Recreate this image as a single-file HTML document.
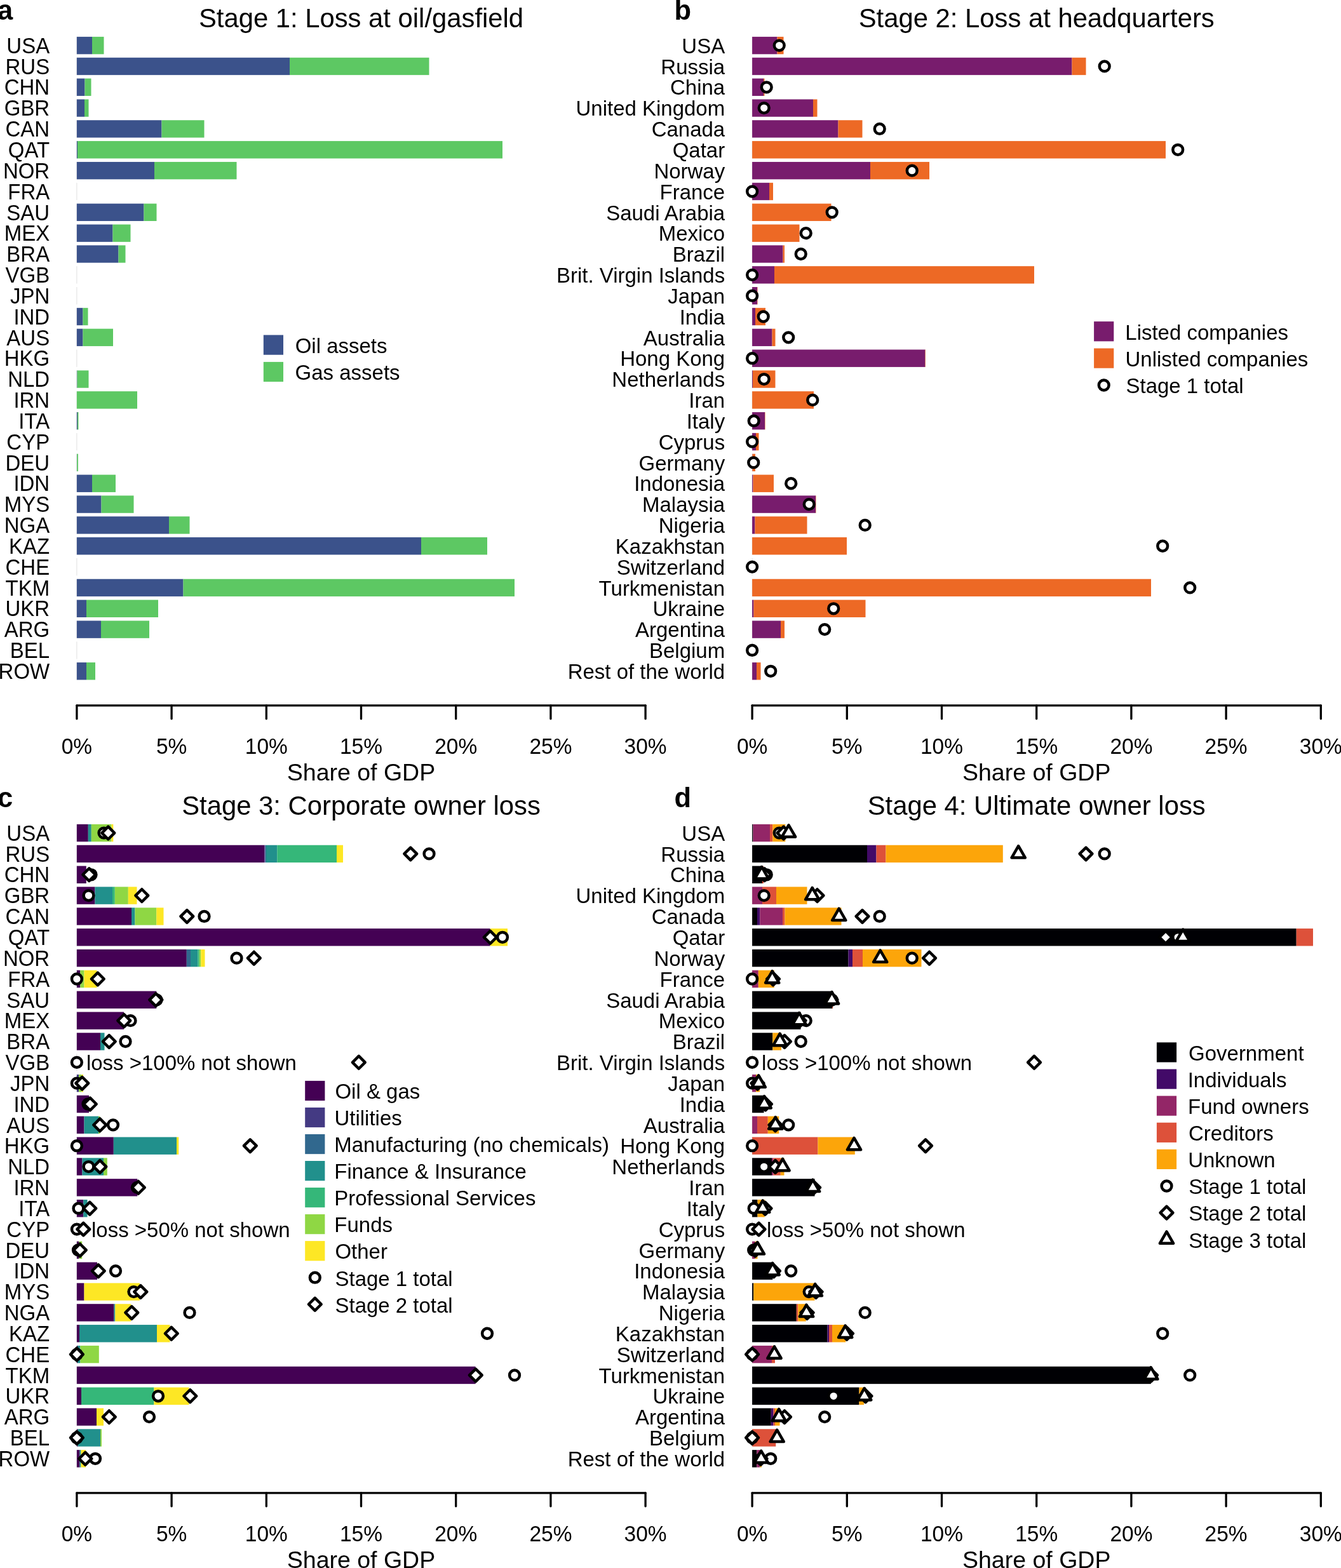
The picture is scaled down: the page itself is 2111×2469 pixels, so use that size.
<!DOCTYPE html>
<html><head><meta charset="utf-8"><title>Stages of loss</title>
<style>
html,body{margin:0;padding:0;background:#fff;overflow:hidden;}
svg{display:block;}
text{font-family:"Liberation Sans",Arial,sans-serif;font-size:33.5px;fill:#000;}
</style></head><body>
<svg width="2111" height="2469" viewBox="0 0 2111 2469">
<rect width="2111" height="2469" fill="#fff"/>
<text x="-4.00" y="30.50" font-weight="bold" style="font-size:43.5px">a</text>
<text transform="translate(568.50 43.00) scale(1 1.02)" text-anchor="middle" style="font-size:41.8px">Stage 1: Loss at oil/gasfield</text>
<rect x="120.40" y="57.90" width="1" height="27.40" fill="#000" fill-opacity="0.13"/>
<rect x="120.90" y="57.90" width="24.10" height="27.40" fill="#3B528B"/>
<rect x="145.00" y="57.90" width="18.50" height="27.40" fill="#5DC863"/>
<text transform="translate(78.20 83.80) scale(0.985 1.045)" text-anchor="end">USA</text>
<rect x="120.40" y="90.74" width="1" height="27.40" fill="#000" fill-opacity="0.13"/>
<rect x="120.90" y="90.74" width="335.10" height="27.40" fill="#3B528B"/>
<rect x="456.00" y="90.74" width="219.50" height="27.40" fill="#5DC863"/>
<text transform="translate(78.20 116.64) scale(0.985 1.045)" text-anchor="end">RUS</text>
<rect x="120.40" y="123.58" width="1" height="27.40" fill="#000" fill-opacity="0.13"/>
<rect x="120.90" y="123.58" width="12.60" height="27.40" fill="#3B528B"/>
<rect x="133.50" y="123.58" width="10.00" height="27.40" fill="#5DC863"/>
<text transform="translate(78.20 149.48) scale(0.985 1.045)" text-anchor="end">CHN</text>
<rect x="120.40" y="156.42" width="1" height="27.40" fill="#000" fill-opacity="0.13"/>
<rect x="120.90" y="156.42" width="12.10" height="27.40" fill="#3B528B"/>
<rect x="133.00" y="156.42" width="6.50" height="27.40" fill="#5DC863"/>
<text transform="translate(78.20 182.32) scale(0.985 1.045)" text-anchor="end">GBR</text>
<rect x="120.40" y="189.26" width="1" height="27.40" fill="#000" fill-opacity="0.13"/>
<rect x="120.90" y="189.26" width="133.60" height="27.40" fill="#3B528B"/>
<rect x="254.50" y="189.26" width="67.00" height="27.40" fill="#5DC863"/>
<text transform="translate(78.20 215.16) scale(0.985 1.045)" text-anchor="end">CAN</text>
<rect x="120.40" y="222.10" width="1" height="27.40" fill="#000" fill-opacity="0.13"/>
<rect x="120.90" y="222.10" width="1.10" height="27.40" fill="#3B528B"/>
<rect x="122.00" y="222.10" width="669.00" height="27.40" fill="#5DC863"/>
<text transform="translate(78.20 248.00) scale(0.985 1.045)" text-anchor="end">QAT</text>
<rect x="120.40" y="254.94" width="1" height="27.40" fill="#000" fill-opacity="0.13"/>
<rect x="120.90" y="254.94" width="122.10" height="27.40" fill="#3B528B"/>
<rect x="243.00" y="254.94" width="129.50" height="27.40" fill="#5DC863"/>
<text transform="translate(78.20 280.84) scale(0.985 1.045)" text-anchor="end">NOR</text>
<rect x="120.40" y="287.78" width="1" height="27.40" fill="#000" fill-opacity="0.13"/>
<text transform="translate(78.20 313.68) scale(0.985 1.045)" text-anchor="end">FRA</text>
<rect x="120.40" y="320.62" width="1" height="27.40" fill="#000" fill-opacity="0.13"/>
<rect x="120.90" y="320.62" width="105.60" height="27.40" fill="#3B528B"/>
<rect x="226.50" y="320.62" width="20.00" height="27.40" fill="#5DC863"/>
<text transform="translate(78.20 346.52) scale(0.985 1.045)" text-anchor="end">SAU</text>
<rect x="120.40" y="353.46" width="1" height="27.40" fill="#000" fill-opacity="0.13"/>
<rect x="120.90" y="353.46" width="56.60" height="27.40" fill="#3B528B"/>
<rect x="177.50" y="353.46" width="28.00" height="27.40" fill="#5DC863"/>
<text transform="translate(78.20 379.36) scale(0.985 1.045)" text-anchor="end">MEX</text>
<rect x="120.40" y="386.30" width="1" height="27.40" fill="#000" fill-opacity="0.13"/>
<rect x="120.90" y="386.30" width="65.60" height="27.40" fill="#3B528B"/>
<rect x="186.50" y="386.30" width="11.00" height="27.40" fill="#5DC863"/>
<text transform="translate(78.20 412.20) scale(0.985 1.045)" text-anchor="end">BRA</text>
<rect x="120.40" y="419.14" width="1" height="27.40" fill="#000" fill-opacity="0.13"/>
<text transform="translate(78.20 445.04) scale(0.985 1.045)" text-anchor="end">VGB</text>
<rect x="120.40" y="451.98" width="1" height="27.40" fill="#000" fill-opacity="0.13"/>
<text transform="translate(78.20 477.88) scale(0.985 1.045)" text-anchor="end">JPN</text>
<rect x="120.40" y="484.82" width="1" height="27.40" fill="#000" fill-opacity="0.13"/>
<rect x="120.90" y="484.82" width="9.60" height="27.40" fill="#3B528B"/>
<rect x="130.50" y="484.82" width="8.00" height="27.40" fill="#5DC863"/>
<text transform="translate(78.20 510.72) scale(0.985 1.045)" text-anchor="end">IND</text>
<rect x="120.40" y="517.66" width="1" height="27.40" fill="#000" fill-opacity="0.13"/>
<rect x="120.90" y="517.66" width="9.60" height="27.40" fill="#3B528B"/>
<rect x="130.50" y="517.66" width="47.50" height="27.40" fill="#5DC863"/>
<text transform="translate(78.20 543.56) scale(0.985 1.045)" text-anchor="end">AUS</text>
<rect x="120.40" y="550.50" width="1" height="27.40" fill="#000" fill-opacity="0.13"/>
<text transform="translate(78.20 576.40) scale(0.985 1.045)" text-anchor="end">HKG</text>
<rect x="120.40" y="583.34" width="1" height="27.40" fill="#000" fill-opacity="0.13"/>
<rect x="120.90" y="583.34" width="0.60" height="27.40" fill="#3B528B"/>
<rect x="121.50" y="583.34" width="18.00" height="27.40" fill="#5DC863"/>
<text transform="translate(78.20 609.24) scale(0.985 1.045)" text-anchor="end">NLD</text>
<rect x="120.40" y="616.18" width="1" height="27.40" fill="#000" fill-opacity="0.13"/>
<rect x="120.90" y="616.18" width="95.10" height="27.40" fill="#5DC863"/>
<text transform="translate(78.20 642.08) scale(0.985 1.045)" text-anchor="end">IRN</text>
<rect x="120.40" y="649.02" width="1" height="27.40" fill="#000" fill-opacity="0.13"/>
<rect x="120.90" y="649.02" width="1.10" height="27.40" fill="#3B528B"/>
<rect x="122.00" y="649.02" width="1.50" height="27.40" fill="#5DC863"/>
<text transform="translate(78.20 674.92) scale(0.985 1.045)" text-anchor="end">ITA</text>
<rect x="120.40" y="681.86" width="1" height="27.40" fill="#000" fill-opacity="0.13"/>
<text transform="translate(78.20 707.76) scale(0.985 1.045)" text-anchor="end">CYP</text>
<rect x="120.40" y="714.70" width="1" height="27.40" fill="#000" fill-opacity="0.13"/>
<rect x="120.90" y="714.70" width="0.30" height="27.40" fill="#3B528B"/>
<rect x="121.20" y="714.70" width="1.80" height="27.40" fill="#5DC863"/>
<text transform="translate(78.20 740.60) scale(0.985 1.045)" text-anchor="end">DEU</text>
<rect x="120.40" y="747.54" width="1" height="27.40" fill="#000" fill-opacity="0.13"/>
<rect x="120.90" y="747.54" width="24.10" height="27.40" fill="#3B528B"/>
<rect x="145.00" y="747.54" width="37.00" height="27.40" fill="#5DC863"/>
<text transform="translate(78.20 773.44) scale(0.985 1.045)" text-anchor="end">IDN</text>
<rect x="120.40" y="780.38" width="1" height="27.40" fill="#000" fill-opacity="0.13"/>
<rect x="120.90" y="780.38" width="38.60" height="27.40" fill="#3B528B"/>
<rect x="159.50" y="780.38" width="51.00" height="27.40" fill="#5DC863"/>
<text transform="translate(78.20 806.28) scale(0.985 1.045)" text-anchor="end">MYS</text>
<rect x="120.40" y="813.22" width="1" height="27.40" fill="#000" fill-opacity="0.13"/>
<rect x="120.90" y="813.22" width="145.10" height="27.40" fill="#3B528B"/>
<rect x="266.00" y="813.22" width="32.50" height="27.40" fill="#5DC863"/>
<text transform="translate(78.20 839.12) scale(0.985 1.045)" text-anchor="end">NGA</text>
<rect x="120.40" y="846.06" width="1" height="27.40" fill="#000" fill-opacity="0.13"/>
<rect x="120.90" y="846.06" width="542.10" height="27.40" fill="#3B528B"/>
<rect x="663.00" y="846.06" width="104.00" height="27.40" fill="#5DC863"/>
<text transform="translate(78.20 871.96) scale(0.985 1.045)" text-anchor="end">KAZ</text>
<rect x="120.40" y="878.90" width="1" height="27.40" fill="#000" fill-opacity="0.13"/>
<text transform="translate(78.20 904.80) scale(0.985 1.045)" text-anchor="end">CHE</text>
<rect x="120.40" y="911.74" width="1" height="27.40" fill="#000" fill-opacity="0.13"/>
<rect x="120.90" y="911.74" width="167.60" height="27.40" fill="#3B528B"/>
<rect x="288.50" y="911.74" width="521.50" height="27.40" fill="#5DC863"/>
<text transform="translate(78.20 937.64) scale(0.985 1.045)" text-anchor="end">TKM</text>
<rect x="120.40" y="944.58" width="1" height="27.40" fill="#000" fill-opacity="0.13"/>
<rect x="120.90" y="944.58" width="15.10" height="27.40" fill="#3B528B"/>
<rect x="136.00" y="944.58" width="113.00" height="27.40" fill="#5DC863"/>
<text transform="translate(78.20 970.48) scale(0.985 1.045)" text-anchor="end">UKR</text>
<rect x="120.40" y="977.42" width="1" height="27.40" fill="#000" fill-opacity="0.13"/>
<rect x="120.90" y="977.42" width="38.10" height="27.40" fill="#3B528B"/>
<rect x="159.00" y="977.42" width="76.00" height="27.40" fill="#5DC863"/>
<text transform="translate(78.20 1003.32) scale(0.985 1.045)" text-anchor="end">ARG</text>
<rect x="120.40" y="1010.26" width="1" height="27.40" fill="#000" fill-opacity="0.13"/>
<text transform="translate(78.20 1036.16) scale(0.985 1.045)" text-anchor="end">BEL</text>
<rect x="120.40" y="1043.10" width="1" height="27.40" fill="#000" fill-opacity="0.13"/>
<rect x="120.90" y="1043.10" width="15.10" height="27.40" fill="#3B528B"/>
<rect x="136.00" y="1043.10" width="14.00" height="27.40" fill="#5DC863"/>
<text transform="translate(78.20 1069.00) scale(0.985 1.045)" text-anchor="end">ROW</text>
<path d="M120.90 1110.80H1016.10" stroke="#000" stroke-width="3.3" fill="none" stroke-linecap="round"/>
<path d="M120.90 1110.80V1131.80" stroke="#000" stroke-width="3.3" fill="none" stroke-linecap="round"/>
<path d="M270.10 1110.80V1131.80" stroke="#000" stroke-width="3.3" fill="none" stroke-linecap="round"/>
<path d="M419.30 1110.80V1131.80" stroke="#000" stroke-width="3.3" fill="none" stroke-linecap="round"/>
<path d="M568.50 1110.80V1131.80" stroke="#000" stroke-width="3.3" fill="none" stroke-linecap="round"/>
<path d="M717.70 1110.80V1131.80" stroke="#000" stroke-width="3.3" fill="none" stroke-linecap="round"/>
<path d="M866.90 1110.80V1131.80" stroke="#000" stroke-width="3.3" fill="none" stroke-linecap="round"/>
<path d="M1016.10 1110.80V1131.80" stroke="#000" stroke-width="3.3" fill="none" stroke-linecap="round"/>
<text transform="translate(120.90 1186.60) scale(1 1.025)" text-anchor="middle">0%</text>
<text transform="translate(270.10 1186.60) scale(1 1.025)" text-anchor="middle">5%</text>
<text transform="translate(419.30 1186.60) scale(1 1.025)" text-anchor="middle">10%</text>
<text transform="translate(568.50 1186.60) scale(1 1.025)" text-anchor="middle">15%</text>
<text transform="translate(717.70 1186.60) scale(1 1.025)" text-anchor="middle">20%</text>
<text transform="translate(866.90 1186.60) scale(1 1.025)" text-anchor="middle">25%</text>
<text transform="translate(1016.10 1186.60) scale(1 1.025)" text-anchor="middle">30%</text>
<text x="568.50" y="1228.50" text-anchor="middle" style="font-size:37.5px">Share of GDP</text>
<rect x="414.8" y="527.50" width="31.2" height="31.2" fill="#3B528B"/>
<text transform="translate(464.65 555.90) scale(0.985 1.01)">Oil assets</text>
<rect x="414.8" y="569.90" width="31.2" height="31.2" fill="#5DC863"/>
<text transform="translate(464.55 598.30) scale(0.985 1.01)">Gas assets</text>
<text x="1061.40" y="30.50" font-weight="bold" style="font-size:43.5px">b</text>
<text transform="translate(1631.70 43.00) scale(1 1.02)" text-anchor="middle" style="font-size:41.8px">Stage 2: Loss at headquarters</text>
<rect x="1183.60" y="57.90" width="1" height="27.40" fill="#000" fill-opacity="0.13"/>
<rect x="1184.10" y="57.90" width="39.40" height="27.40" fill="#781C6D"/>
<rect x="1223.50" y="57.90" width="10.00" height="27.40" fill="#ED6925"/>
<text transform="translate(1141.20 83.80) scale(0.985 1.01)" text-anchor="end">USA</text>
<rect x="1183.60" y="90.74" width="1" height="27.40" fill="#000" fill-opacity="0.13"/>
<rect x="1184.10" y="90.74" width="503.40" height="27.40" fill="#781C6D"/>
<rect x="1687.50" y="90.74" width="22.00" height="27.40" fill="#ED6925"/>
<text transform="translate(1141.20 116.64) scale(0.985 1.01)" text-anchor="end">Russia</text>
<rect x="1183.60" y="123.58" width="1" height="27.40" fill="#000" fill-opacity="0.13"/>
<rect x="1184.10" y="123.58" width="17.90" height="27.40" fill="#781C6D"/>
<rect x="1202.00" y="123.58" width="1.50" height="27.40" fill="#ED6925"/>
<text transform="translate(1141.20 149.48) scale(0.985 1.01)" text-anchor="end">China</text>
<rect x="1183.60" y="156.42" width="1" height="27.40" fill="#000" fill-opacity="0.13"/>
<rect x="1184.10" y="156.42" width="95.90" height="27.40" fill="#781C6D"/>
<rect x="1280.00" y="156.42" width="6.50" height="27.40" fill="#ED6925"/>
<text transform="translate(1141.20 182.32) scale(0.985 1.01)" text-anchor="end">United Kingdom</text>
<rect x="1183.60" y="189.26" width="1" height="27.40" fill="#000" fill-opacity="0.13"/>
<rect x="1184.10" y="189.26" width="135.40" height="27.40" fill="#781C6D"/>
<rect x="1319.50" y="189.26" width="38.00" height="27.40" fill="#ED6925"/>
<text transform="translate(1141.20 215.16) scale(0.985 1.01)" text-anchor="end">Canada</text>
<rect x="1183.60" y="222.10" width="1" height="27.40" fill="#000" fill-opacity="0.13"/>
<rect x="1184.10" y="222.10" width="650.90" height="27.40" fill="#ED6925"/>
<text transform="translate(1141.20 248.00) scale(0.985 1.01)" text-anchor="end">Qatar</text>
<rect x="1183.60" y="254.94" width="1" height="27.40" fill="#000" fill-opacity="0.13"/>
<rect x="1184.10" y="254.94" width="185.90" height="27.40" fill="#781C6D"/>
<rect x="1370.00" y="254.94" width="93.00" height="27.40" fill="#ED6925"/>
<text transform="translate(1141.20 280.84) scale(0.985 1.01)" text-anchor="end">Norway</text>
<rect x="1183.60" y="287.78" width="1" height="27.40" fill="#000" fill-opacity="0.13"/>
<rect x="1184.10" y="287.78" width="26.90" height="27.40" fill="#781C6D"/>
<rect x="1211.00" y="287.78" width="6.00" height="27.40" fill="#ED6925"/>
<text transform="translate(1141.20 313.68) scale(0.985 1.01)" text-anchor="end">France</text>
<rect x="1183.60" y="320.62" width="1" height="27.40" fill="#000" fill-opacity="0.13"/>
<rect x="1184.10" y="320.62" width="124.40" height="27.40" fill="#ED6925"/>
<text transform="translate(1141.20 346.52) scale(0.985 1.01)" text-anchor="end">Saudi Arabia</text>
<rect x="1183.60" y="353.46" width="1" height="27.40" fill="#000" fill-opacity="0.13"/>
<rect x="1184.10" y="353.46" width="74.40" height="27.40" fill="#ED6925"/>
<text transform="translate(1141.20 379.36) scale(0.985 1.01)" text-anchor="end">Mexico</text>
<rect x="1183.60" y="386.30" width="1" height="27.40" fill="#000" fill-opacity="0.13"/>
<rect x="1184.10" y="386.30" width="48.40" height="27.40" fill="#781C6D"/>
<rect x="1232.50" y="386.30" width="2.50" height="27.40" fill="#ED6925"/>
<text transform="translate(1141.20 412.20) scale(0.985 1.01)" text-anchor="end">Brazil</text>
<rect x="1183.60" y="419.14" width="1" height="27.40" fill="#000" fill-opacity="0.13"/>
<rect x="1184.10" y="419.14" width="34.90" height="27.40" fill="#781C6D"/>
<rect x="1219.00" y="419.14" width="409.00" height="27.40" fill="#ED6925"/>
<text transform="translate(1141.20 445.04) scale(0.985 1.01)" text-anchor="end">Brit. Virgin Islands</text>
<rect x="1183.60" y="451.98" width="1" height="27.40" fill="#000" fill-opacity="0.13"/>
<rect x="1184.10" y="451.98" width="7.90" height="27.40" fill="#781C6D"/>
<rect x="1192.00" y="451.98" width="0.50" height="27.40" fill="#ED6925"/>
<text transform="translate(1141.20 477.88) scale(0.985 1.01)" text-anchor="end">Japan</text>
<rect x="1183.60" y="484.82" width="1" height="27.40" fill="#000" fill-opacity="0.13"/>
<rect x="1184.10" y="484.82" width="4.90" height="27.40" fill="#781C6D"/>
<rect x="1189.00" y="484.82" width="16.00" height="27.40" fill="#ED6925"/>
<text transform="translate(1141.20 510.72) scale(0.985 1.01)" text-anchor="end">India</text>
<rect x="1183.60" y="517.66" width="1" height="27.40" fill="#000" fill-opacity="0.13"/>
<rect x="1184.10" y="517.66" width="31.40" height="27.40" fill="#781C6D"/>
<rect x="1215.50" y="517.66" width="5.00" height="27.40" fill="#ED6925"/>
<text transform="translate(1141.20 543.56) scale(0.985 1.01)" text-anchor="end">Australia</text>
<rect x="1183.60" y="550.50" width="1" height="27.40" fill="#000" fill-opacity="0.13"/>
<rect x="1184.10" y="550.50" width="272.40" height="27.40" fill="#781C6D"/>
<rect x="1456.50" y="550.50" width="0.50" height="27.40" fill="#ED6925"/>
<text transform="translate(1141.20 576.40) scale(0.985 1.01)" text-anchor="end">Hong Kong</text>
<rect x="1183.60" y="583.34" width="1" height="27.40" fill="#000" fill-opacity="0.13"/>
<rect x="1184.10" y="583.34" width="0.90" height="27.40" fill="#781C6D"/>
<rect x="1185.00" y="583.34" width="35.50" height="27.40" fill="#ED6925"/>
<text transform="translate(1141.20 609.24) scale(0.985 1.01)" text-anchor="end">Netherlands</text>
<rect x="1183.60" y="616.18" width="1" height="27.40" fill="#000" fill-opacity="0.13"/>
<rect x="1184.10" y="616.18" width="96.90" height="27.40" fill="#ED6925"/>
<text transform="translate(1141.20 642.08) scale(0.985 1.01)" text-anchor="end">Iran</text>
<rect x="1183.60" y="649.02" width="1" height="27.40" fill="#000" fill-opacity="0.13"/>
<rect x="1184.10" y="649.02" width="19.90" height="27.40" fill="#781C6D"/>
<rect x="1204.00" y="649.02" width="0.50" height="27.40" fill="#ED6925"/>
<text transform="translate(1141.20 674.92) scale(0.985 1.01)" text-anchor="end">Italy</text>
<rect x="1183.60" y="681.86" width="1" height="27.40" fill="#000" fill-opacity="0.13"/>
<rect x="1184.10" y="681.86" width="5.90" height="27.40" fill="#781C6D"/>
<rect x="1190.00" y="681.86" width="4.50" height="27.40" fill="#ED6925"/>
<text transform="translate(1141.20 707.76) scale(0.985 1.01)" text-anchor="end">Cyprus</text>
<rect x="1183.60" y="714.70" width="1" height="27.40" fill="#000" fill-opacity="0.13"/>
<rect x="1184.10" y="714.70" width="0.40" height="27.40" fill="#781C6D"/>
<rect x="1184.50" y="714.70" width="4.50" height="27.40" fill="#ED6925"/>
<text transform="translate(1141.20 740.60) scale(0.985 1.01)" text-anchor="end">Germany</text>
<rect x="1183.60" y="747.54" width="1" height="27.40" fill="#000" fill-opacity="0.13"/>
<rect x="1184.10" y="747.54" width="1.40" height="27.40" fill="#781C6D"/>
<rect x="1185.50" y="747.54" width="32.50" height="27.40" fill="#ED6925"/>
<text transform="translate(1141.20 773.44) scale(0.985 1.01)" text-anchor="end">Indonesia</text>
<rect x="1183.60" y="780.38" width="1" height="27.40" fill="#000" fill-opacity="0.13"/>
<rect x="1184.10" y="780.38" width="99.90" height="27.40" fill="#781C6D"/>
<rect x="1284.00" y="780.38" width="0.50" height="27.40" fill="#ED6925"/>
<text transform="translate(1141.20 806.28) scale(0.985 1.01)" text-anchor="end">Malaysia</text>
<rect x="1183.60" y="813.22" width="1" height="27.40" fill="#000" fill-opacity="0.13"/>
<rect x="1184.10" y="813.22" width="4.40" height="27.40" fill="#781C6D"/>
<rect x="1188.50" y="813.22" width="82.00" height="27.40" fill="#ED6925"/>
<text transform="translate(1141.20 839.12) scale(0.985 1.01)" text-anchor="end">Nigeria</text>
<rect x="1183.60" y="846.06" width="1" height="27.40" fill="#000" fill-opacity="0.13"/>
<rect x="1184.10" y="846.06" width="148.90" height="27.40" fill="#ED6925"/>
<text transform="translate(1141.20 871.96) scale(0.985 1.01)" text-anchor="end">Kazakhstan</text>
<rect x="1183.60" y="878.90" width="1" height="27.40" fill="#000" fill-opacity="0.13"/>
<text transform="translate(1141.20 904.80) scale(0.985 1.01)" text-anchor="end">Switzerland</text>
<rect x="1183.60" y="911.74" width="1" height="27.40" fill="#000" fill-opacity="0.13"/>
<rect x="1184.10" y="911.74" width="627.90" height="27.40" fill="#ED6925"/>
<text transform="translate(1141.20 937.64) scale(0.985 1.01)" text-anchor="end">Turkmenistan</text>
<rect x="1183.60" y="944.58" width="1" height="27.40" fill="#000" fill-opacity="0.13"/>
<rect x="1184.10" y="944.58" width="2.40" height="27.40" fill="#781C6D"/>
<rect x="1186.50" y="944.58" width="176.00" height="27.40" fill="#ED6925"/>
<text transform="translate(1141.20 970.48) scale(0.985 1.01)" text-anchor="end">Ukraine</text>
<rect x="1183.60" y="977.42" width="1" height="27.40" fill="#000" fill-opacity="0.13"/>
<rect x="1184.10" y="977.42" width="44.90" height="27.40" fill="#781C6D"/>
<rect x="1229.00" y="977.42" width="6.00" height="27.40" fill="#ED6925"/>
<text transform="translate(1141.20 1003.32) scale(0.985 1.01)" text-anchor="end">Argentina</text>
<rect x="1183.60" y="1010.26" width="1" height="27.40" fill="#000" fill-opacity="0.13"/>
<text transform="translate(1141.20 1036.16) scale(0.985 1.01)" text-anchor="end">Belgium</text>
<rect x="1183.60" y="1043.10" width="1" height="27.40" fill="#000" fill-opacity="0.13"/>
<rect x="1184.10" y="1043.10" width="6.90" height="27.40" fill="#781C6D"/>
<rect x="1191.00" y="1043.10" width="6.50" height="27.40" fill="#ED6925"/>
<text transform="translate(1141.20 1069.00) scale(0.985 1.01)" text-anchor="end">Rest of the world</text>
<circle cx="1226.70" cy="71.60" r="7.9" fill="#fff" stroke="#000" stroke-width="4.5"/>
<circle cx="1738.70" cy="104.44" r="7.9" fill="#fff" stroke="#000" stroke-width="4.5"/>
<circle cx="1206.70" cy="137.28" r="7.9" fill="#fff" stroke="#000" stroke-width="4.5"/>
<circle cx="1202.70" cy="170.12" r="7.9" fill="#fff" stroke="#000" stroke-width="4.5"/>
<circle cx="1384.70" cy="202.96" r="7.9" fill="#fff" stroke="#000" stroke-width="4.5"/>
<circle cx="1854.20" cy="235.80" r="7.9" fill="#fff" stroke="#000" stroke-width="4.5"/>
<circle cx="1435.70" cy="268.64" r="7.9" fill="#fff" stroke="#000" stroke-width="4.5"/>
<circle cx="1184.10" cy="301.48" r="7.9" fill="#fff" stroke="#000" stroke-width="4.5"/>
<circle cx="1309.70" cy="334.32" r="7.9" fill="#fff" stroke="#000" stroke-width="4.5"/>
<circle cx="1268.70" cy="367.16" r="7.9" fill="#fff" stroke="#000" stroke-width="4.5"/>
<circle cx="1260.70" cy="400.00" r="7.9" fill="#fff" stroke="#000" stroke-width="4.5"/>
<circle cx="1184.10" cy="432.84" r="7.9" fill="#fff" stroke="#000" stroke-width="4.5"/>
<circle cx="1184.10" cy="465.68" r="7.9" fill="#fff" stroke="#000" stroke-width="4.5"/>
<circle cx="1201.70" cy="498.52" r="7.9" fill="#fff" stroke="#000" stroke-width="4.5"/>
<circle cx="1241.20" cy="531.36" r="7.9" fill="#fff" stroke="#000" stroke-width="4.5"/>
<circle cx="1184.10" cy="564.20" r="7.9" fill="#fff" stroke="#000" stroke-width="4.5"/>
<circle cx="1202.70" cy="597.04" r="7.9" fill="#fff" stroke="#000" stroke-width="4.5"/>
<circle cx="1279.20" cy="629.88" r="7.9" fill="#fff" stroke="#000" stroke-width="4.5"/>
<circle cx="1186.70" cy="662.72" r="7.9" fill="#fff" stroke="#000" stroke-width="4.5"/>
<circle cx="1184.10" cy="695.56" r="7.9" fill="#fff" stroke="#000" stroke-width="4.5"/>
<circle cx="1186.20" cy="728.40" r="7.9" fill="#fff" stroke="#000" stroke-width="4.5"/>
<circle cx="1245.20" cy="761.24" r="7.9" fill="#fff" stroke="#000" stroke-width="4.5"/>
<circle cx="1273.70" cy="794.08" r="7.9" fill="#fff" stroke="#000" stroke-width="4.5"/>
<circle cx="1361.70" cy="826.92" r="7.9" fill="#fff" stroke="#000" stroke-width="4.5"/>
<circle cx="1830.20" cy="859.76" r="7.9" fill="#fff" stroke="#000" stroke-width="4.5"/>
<circle cx="1184.10" cy="892.60" r="7.9" fill="#fff" stroke="#000" stroke-width="4.5"/>
<circle cx="1873.20" cy="925.44" r="7.9" fill="#fff" stroke="#000" stroke-width="4.5"/>
<circle cx="1312.20" cy="958.28" r="7.9" fill="#fff" stroke="#000" stroke-width="4.5"/>
<circle cx="1298.20" cy="991.12" r="7.9" fill="#fff" stroke="#000" stroke-width="4.5"/>
<circle cx="1184.10" cy="1023.96" r="7.9" fill="#fff" stroke="#000" stroke-width="4.5"/>
<circle cx="1213.20" cy="1056.80" r="7.9" fill="#fff" stroke="#000" stroke-width="4.5"/>
<path d="M1184.10 1110.80H2079.30" stroke="#000" stroke-width="3.3" fill="none" stroke-linecap="round"/>
<path d="M1184.10 1110.80V1131.80" stroke="#000" stroke-width="3.3" fill="none" stroke-linecap="round"/>
<path d="M1333.30 1110.80V1131.80" stroke="#000" stroke-width="3.3" fill="none" stroke-linecap="round"/>
<path d="M1482.50 1110.80V1131.80" stroke="#000" stroke-width="3.3" fill="none" stroke-linecap="round"/>
<path d="M1631.70 1110.80V1131.80" stroke="#000" stroke-width="3.3" fill="none" stroke-linecap="round"/>
<path d="M1780.90 1110.80V1131.80" stroke="#000" stroke-width="3.3" fill="none" stroke-linecap="round"/>
<path d="M1930.10 1110.80V1131.80" stroke="#000" stroke-width="3.3" fill="none" stroke-linecap="round"/>
<path d="M2079.30 1110.80V1131.80" stroke="#000" stroke-width="3.3" fill="none" stroke-linecap="round"/>
<text transform="translate(1184.10 1186.60) scale(1 1.025)" text-anchor="middle">0%</text>
<text transform="translate(1333.30 1186.60) scale(1 1.025)" text-anchor="middle">5%</text>
<text transform="translate(1482.50 1186.60) scale(1 1.025)" text-anchor="middle">10%</text>
<text transform="translate(1631.70 1186.60) scale(1 1.025)" text-anchor="middle">15%</text>
<text transform="translate(1780.90 1186.60) scale(1 1.025)" text-anchor="middle">20%</text>
<text transform="translate(1930.10 1186.60) scale(1 1.025)" text-anchor="middle">25%</text>
<text transform="translate(2079.30 1186.60) scale(1 1.025)" text-anchor="middle">30%</text>
<text x="1631.70" y="1228.50" text-anchor="middle" style="font-size:37.5px">Share of GDP</text>
<rect x="1722.1" y="506.20" width="31.2" height="31.2" fill="#781C6D"/>
<text transform="translate(1771.29 534.60) scale(0.985 1.01)">Listed companies</text>
<rect x="1722.1" y="548.50" width="31.2" height="31.2" fill="#ED6925"/>
<text transform="translate(1771.46 576.90) scale(0.985 1.01)">Unlisted companies</text>
<circle cx="1737.70" cy="606.50" r="7.9" fill="#fff" stroke="#000" stroke-width="4.5"/>
<text transform="translate(1772.48 619.30) scale(0.985 1.01)">Stage 1 total</text>
<text x="-4.00" y="1270.50" font-weight="bold" style="font-size:43.5px">c</text>
<text transform="translate(568.50 1283.00) scale(1 1.02)" text-anchor="middle" style="font-size:41.8px">Stage 3: Corporate owner loss</text>
<rect x="120.40" y="1297.90" width="1" height="27.40" fill="#000" fill-opacity="0.13"/>
<rect x="120.90" y="1297.90" width="17.90" height="27.40" fill="#440154"/>
<rect x="138.80" y="1297.90" width="5.00" height="27.40" fill="#21908C"/>
<rect x="143.80" y="1297.90" width="31.70" height="27.40" fill="#8FD744"/>
<rect x="175.50" y="1297.90" width="2.80" height="27.40" fill="#FDE725"/>
<text transform="translate(78.20 1323.80) scale(0.985 1.045)" text-anchor="end">USA</text>
<rect x="120.40" y="1330.74" width="1" height="27.40" fill="#000" fill-opacity="0.13"/>
<rect x="120.90" y="1330.74" width="295.40" height="27.40" fill="#440154"/>
<rect x="416.30" y="1330.74" width="1.20" height="27.40" fill="#443A83"/>
<rect x="417.50" y="1330.74" width="1.50" height="27.40" fill="#31688E"/>
<rect x="419.00" y="1330.74" width="17.30" height="27.40" fill="#21908C"/>
<rect x="436.30" y="1330.74" width="93.70" height="27.40" fill="#35B779"/>
<rect x="530.00" y="1330.74" width="10.00" height="27.40" fill="#FDE725"/>
<text transform="translate(78.20 1356.64) scale(0.985 1.045)" text-anchor="end">RUS</text>
<rect x="120.40" y="1363.58" width="1" height="27.40" fill="#000" fill-opacity="0.13"/>
<rect x="120.90" y="1363.58" width="14.90" height="27.40" fill="#440154"/>
<text transform="translate(78.20 1389.48) scale(0.985 1.045)" text-anchor="end">CHN</text>
<rect x="120.40" y="1396.42" width="1" height="27.40" fill="#000" fill-opacity="0.13"/>
<rect x="120.90" y="1396.42" width="28.60" height="27.40" fill="#440154"/>
<rect x="149.50" y="1396.42" width="27.50" height="27.40" fill="#21908C"/>
<rect x="177.00" y="1396.42" width="3.80" height="27.40" fill="#35B779"/>
<rect x="180.80" y="1396.42" width="21.00" height="27.40" fill="#8FD744"/>
<rect x="201.80" y="1396.42" width="13.70" height="27.40" fill="#FDE725"/>
<text transform="translate(78.20 1422.32) scale(0.985 1.045)" text-anchor="end">GBR</text>
<rect x="120.40" y="1429.26" width="1" height="27.40" fill="#000" fill-opacity="0.13"/>
<rect x="120.90" y="1429.26" width="86.10" height="27.40" fill="#440154"/>
<rect x="207.00" y="1429.26" width="5.50" height="27.40" fill="#21908C"/>
<rect x="212.50" y="1429.26" width="33.80" height="27.40" fill="#8FD744"/>
<rect x="246.30" y="1429.26" width="11.20" height="27.40" fill="#FDE725"/>
<text transform="translate(78.20 1455.16) scale(0.985 1.045)" text-anchor="end">CAN</text>
<rect x="120.40" y="1462.10" width="1" height="27.40" fill="#000" fill-opacity="0.13"/>
<rect x="120.90" y="1462.10" width="650.80" height="27.40" fill="#440154"/>
<rect x="771.70" y="1462.10" width="27.30" height="27.40" fill="#FDE725"/>
<text transform="translate(78.20 1488.00) scale(0.985 1.045)" text-anchor="end">QAT</text>
<rect x="120.40" y="1494.94" width="1" height="27.40" fill="#000" fill-opacity="0.13"/>
<rect x="120.90" y="1494.94" width="172.90" height="27.40" fill="#440154"/>
<rect x="293.80" y="1494.94" width="6.20" height="27.40" fill="#31688E"/>
<rect x="300.00" y="1494.94" width="11.30" height="27.40" fill="#21908C"/>
<rect x="311.30" y="1494.94" width="2.50" height="27.40" fill="#35B779"/>
<rect x="313.80" y="1494.94" width="2.50" height="27.40" fill="#8FD744"/>
<rect x="316.30" y="1494.94" width="6.20" height="27.40" fill="#FDE725"/>
<text transform="translate(78.20 1520.84) scale(0.985 1.045)" text-anchor="end">NOR</text>
<rect x="120.40" y="1527.78" width="1" height="27.40" fill="#000" fill-opacity="0.13"/>
<rect x="120.90" y="1527.78" width="5.40" height="27.40" fill="#440154"/>
<rect x="126.30" y="1527.78" width="6.20" height="27.40" fill="#8FD744"/>
<rect x="132.50" y="1527.78" width="20.00" height="27.40" fill="#FDE725"/>
<text transform="translate(78.20 1553.68) scale(0.985 1.045)" text-anchor="end">FRA</text>
<rect x="120.40" y="1560.62" width="1" height="27.40" fill="#000" fill-opacity="0.13"/>
<rect x="120.90" y="1560.62" width="125.40" height="27.40" fill="#440154"/>
<text transform="translate(78.20 1586.52) scale(0.985 1.045)" text-anchor="end">SAU</text>
<rect x="120.40" y="1593.46" width="1" height="27.40" fill="#000" fill-opacity="0.13"/>
<rect x="120.90" y="1593.46" width="74.10" height="27.40" fill="#440154"/>
<text transform="translate(78.20 1619.36) scale(0.985 1.045)" text-anchor="end">MEX</text>
<rect x="120.40" y="1626.30" width="1" height="27.40" fill="#000" fill-opacity="0.13"/>
<rect x="120.90" y="1626.30" width="37.10" height="27.40" fill="#440154"/>
<rect x="158.00" y="1626.30" width="6.50" height="27.40" fill="#21908C"/>
<text transform="translate(78.20 1652.20) scale(0.985 1.045)" text-anchor="end">BRA</text>
<rect x="120.40" y="1659.14" width="1" height="27.40" fill="#000" fill-opacity="0.13"/>
<text transform="translate(78.20 1685.04) scale(0.985 1.045)" text-anchor="end">VGB</text>
<rect x="120.40" y="1691.98" width="1" height="27.40" fill="#000" fill-opacity="0.13"/>
<rect x="120.90" y="1691.98" width="3.10" height="27.40" fill="#443A83"/>
<rect x="124.00" y="1691.98" width="4.50" height="27.40" fill="#8FD744"/>
<rect x="128.50" y="1691.98" width="2.50" height="27.40" fill="#FDE725"/>
<text transform="translate(78.20 1717.88) scale(0.985 1.045)" text-anchor="end">JPN</text>
<rect x="120.40" y="1724.82" width="1" height="27.40" fill="#000" fill-opacity="0.13"/>
<rect x="120.90" y="1724.82" width="19.10" height="27.40" fill="#440154"/>
<text transform="translate(78.20 1750.72) scale(0.985 1.045)" text-anchor="end">IND</text>
<rect x="120.40" y="1757.66" width="1" height="27.40" fill="#000" fill-opacity="0.13"/>
<rect x="120.90" y="1757.66" width="11.60" height="27.40" fill="#440154"/>
<rect x="132.50" y="1757.66" width="22.50" height="27.40" fill="#21908C"/>
<rect x="155.00" y="1757.66" width="2.50" height="27.40" fill="#8FD744"/>
<text transform="translate(78.20 1783.56) scale(0.985 1.045)" text-anchor="end">AUS</text>
<rect x="120.40" y="1790.50" width="1" height="27.40" fill="#000" fill-opacity="0.13"/>
<rect x="120.90" y="1790.50" width="57.90" height="27.40" fill="#440154"/>
<rect x="178.80" y="1790.50" width="99.20" height="27.40" fill="#21908C"/>
<rect x="278.00" y="1790.50" width="3.30" height="27.40" fill="#FDE725"/>
<text transform="translate(78.20 1816.40) scale(0.985 1.045)" text-anchor="end">HKG</text>
<rect x="120.40" y="1823.34" width="1" height="27.40" fill="#000" fill-opacity="0.13"/>
<rect x="120.90" y="1823.34" width="8.60" height="27.40" fill="#440154"/>
<rect x="129.50" y="1823.34" width="33.50" height="27.40" fill="#21908C"/>
<rect x="163.00" y="1823.34" width="5.80" height="27.40" fill="#8FD744"/>
<text transform="translate(78.20 1849.24) scale(0.985 1.045)" text-anchor="end">NLD</text>
<rect x="120.40" y="1856.18" width="1" height="27.40" fill="#000" fill-opacity="0.13"/>
<rect x="120.90" y="1856.18" width="95.40" height="27.40" fill="#440154"/>
<text transform="translate(78.20 1882.08) scale(0.985 1.045)" text-anchor="end">IRN</text>
<rect x="120.40" y="1889.02" width="1" height="27.40" fill="#000" fill-opacity="0.13"/>
<rect x="120.90" y="1889.02" width="10.40" height="27.40" fill="#440154"/>
<rect x="131.30" y="1889.02" width="6.20" height="27.40" fill="#21908C"/>
<text transform="translate(78.20 1914.92) scale(0.985 1.045)" text-anchor="end">ITA</text>
<rect x="120.40" y="1921.86" width="1" height="27.40" fill="#000" fill-opacity="0.13"/>
<text transform="translate(78.20 1947.76) scale(0.985 1.045)" text-anchor="end">CYP</text>
<rect x="120.40" y="1954.70" width="1" height="27.40" fill="#000" fill-opacity="0.13"/>
<rect x="120.90" y="1954.70" width="3.40" height="27.40" fill="#440154"/>
<rect x="124.30" y="1954.70" width="4.90" height="27.40" fill="#8FD744"/>
<text transform="translate(78.20 1980.60) scale(0.985 1.045)" text-anchor="end">DEU</text>
<rect x="120.40" y="1987.54" width="1" height="27.40" fill="#000" fill-opacity="0.13"/>
<rect x="120.90" y="1987.54" width="32.10" height="27.40" fill="#440154"/>
<text transform="translate(78.20 2013.44) scale(0.985 1.045)" text-anchor="end">IDN</text>
<rect x="120.40" y="2020.38" width="1" height="27.40" fill="#000" fill-opacity="0.13"/>
<rect x="120.90" y="2020.38" width="11.60" height="27.40" fill="#440154"/>
<rect x="132.50" y="2020.38" width="87.50" height="27.40" fill="#FDE725"/>
<text transform="translate(78.20 2046.28) scale(0.985 1.045)" text-anchor="end">MYS</text>
<rect x="120.40" y="2053.22" width="1" height="27.40" fill="#000" fill-opacity="0.13"/>
<rect x="120.90" y="2053.22" width="58.60" height="27.40" fill="#440154"/>
<rect x="179.50" y="2053.22" width="1.80" height="27.40" fill="#21908C"/>
<rect x="181.30" y="2053.22" width="25.00" height="27.40" fill="#FDE725"/>
<text transform="translate(78.20 2079.12) scale(0.985 1.045)" text-anchor="end">NGA</text>
<rect x="120.40" y="2086.06" width="1" height="27.40" fill="#000" fill-opacity="0.13"/>
<rect x="120.90" y="2086.06" width="4.10" height="27.40" fill="#440154"/>
<rect x="125.00" y="2086.06" width="122.00" height="27.40" fill="#21908C"/>
<rect x="247.00" y="2086.06" width="20.50" height="27.40" fill="#FDE725"/>
<text transform="translate(78.20 2111.96) scale(0.985 1.045)" text-anchor="end">KAZ</text>
<rect x="120.40" y="2118.90" width="1" height="27.40" fill="#000" fill-opacity="0.13"/>
<rect x="120.90" y="2118.90" width="1.10" height="27.40" fill="#440154"/>
<rect x="122.00" y="2118.90" width="4.30" height="27.40" fill="#21908C"/>
<rect x="126.30" y="2118.90" width="29.50" height="27.40" fill="#8FD744"/>
<text transform="translate(78.20 2144.80) scale(0.985 1.045)" text-anchor="end">CHE</text>
<rect x="120.40" y="2151.74" width="1" height="27.40" fill="#000" fill-opacity="0.13"/>
<rect x="120.90" y="2151.74" width="627.70" height="27.40" fill="#440154"/>
<text transform="translate(78.20 2177.64) scale(0.985 1.045)" text-anchor="end">TKM</text>
<rect x="120.40" y="2184.58" width="1" height="27.40" fill="#000" fill-opacity="0.13"/>
<rect x="120.90" y="2184.58" width="7.10" height="27.40" fill="#440154"/>
<rect x="128.00" y="2184.58" width="114.50" height="27.40" fill="#35B779"/>
<rect x="242.50" y="2184.58" width="55.00" height="27.40" fill="#FDE725"/>
<text transform="translate(78.20 2210.48) scale(0.985 1.045)" text-anchor="end">UKR</text>
<rect x="120.40" y="2217.42" width="1" height="27.40" fill="#000" fill-opacity="0.13"/>
<rect x="120.90" y="2217.42" width="31.10" height="27.40" fill="#440154"/>
<rect x="152.00" y="2217.42" width="11.00" height="27.40" fill="#FDE725"/>
<text transform="translate(78.20 2243.32) scale(0.985 1.045)" text-anchor="end">ARG</text>
<rect x="120.40" y="2250.26" width="1" height="27.40" fill="#000" fill-opacity="0.13"/>
<rect x="120.90" y="2250.26" width="1.60" height="27.40" fill="#440154"/>
<rect x="122.50" y="2250.26" width="35.50" height="27.40" fill="#21908C"/>
<rect x="158.00" y="2250.26" width="2.00" height="27.40" fill="#8FD744"/>
<text transform="translate(78.20 2276.16) scale(0.985 1.045)" text-anchor="end">BEL</text>
<rect x="120.40" y="2283.10" width="1" height="27.40" fill="#000" fill-opacity="0.13"/>
<rect x="120.90" y="2283.10" width="4.60" height="27.40" fill="#440154"/>
<rect x="125.50" y="2283.10" width="2.00" height="27.40" fill="#21908C"/>
<rect x="127.50" y="2283.10" width="7.50" height="27.40" fill="#FDE725"/>
<text transform="translate(78.20 2309.00) scale(0.985 1.045)" text-anchor="end">ROW</text>
<circle cx="163.50" cy="1311.60" r="7.9" fill="#fff" stroke="#000" stroke-width="4.5"/>
<circle cx="675.50" cy="1344.44" r="7.9" fill="#fff" stroke="#000" stroke-width="4.5"/>
<circle cx="143.50" cy="1377.28" r="7.9" fill="#fff" stroke="#000" stroke-width="4.5"/>
<circle cx="139.50" cy="1410.12" r="7.9" fill="#fff" stroke="#000" stroke-width="4.5"/>
<circle cx="321.50" cy="1442.96" r="7.9" fill="#fff" stroke="#000" stroke-width="4.5"/>
<circle cx="791.00" cy="1475.80" r="7.9" fill="#fff" stroke="#000" stroke-width="4.5"/>
<circle cx="372.50" cy="1508.64" r="7.9" fill="#fff" stroke="#000" stroke-width="4.5"/>
<circle cx="120.90" cy="1541.48" r="7.9" fill="#fff" stroke="#000" stroke-width="4.5"/>
<circle cx="246.50" cy="1574.32" r="7.9" fill="#fff" stroke="#000" stroke-width="4.5"/>
<circle cx="205.50" cy="1607.16" r="7.9" fill="#fff" stroke="#000" stroke-width="4.5"/>
<circle cx="197.50" cy="1640.00" r="7.9" fill="#fff" stroke="#000" stroke-width="4.5"/>
<circle cx="120.90" cy="1672.84" r="7.9" fill="#fff" stroke="#000" stroke-width="4.5"/>
<circle cx="120.90" cy="1705.68" r="7.9" fill="#fff" stroke="#000" stroke-width="4.5"/>
<circle cx="138.50" cy="1738.52" r="7.9" fill="#fff" stroke="#000" stroke-width="4.5"/>
<circle cx="178.00" cy="1771.36" r="7.9" fill="#fff" stroke="#000" stroke-width="4.5"/>
<circle cx="120.90" cy="1804.20" r="7.9" fill="#fff" stroke="#000" stroke-width="4.5"/>
<circle cx="139.50" cy="1837.04" r="7.9" fill="#fff" stroke="#000" stroke-width="4.5"/>
<circle cx="216.00" cy="1869.88" r="7.9" fill="#fff" stroke="#000" stroke-width="4.5"/>
<circle cx="123.50" cy="1902.72" r="7.9" fill="#fff" stroke="#000" stroke-width="4.5"/>
<circle cx="120.90" cy="1935.56" r="7.9" fill="#fff" stroke="#000" stroke-width="4.5"/>
<circle cx="123.00" cy="1968.40" r="7.9" fill="#fff" stroke="#000" stroke-width="4.5"/>
<circle cx="182.00" cy="2001.24" r="7.9" fill="#fff" stroke="#000" stroke-width="4.5"/>
<circle cx="210.50" cy="2034.08" r="7.9" fill="#fff" stroke="#000" stroke-width="4.5"/>
<circle cx="298.50" cy="2066.92" r="7.9" fill="#fff" stroke="#000" stroke-width="4.5"/>
<circle cx="767.00" cy="2099.76" r="7.9" fill="#fff" stroke="#000" stroke-width="4.5"/>
<circle cx="120.90" cy="2132.60" r="7.9" fill="#fff" stroke="#000" stroke-width="4.5"/>
<circle cx="810.00" cy="2165.44" r="7.9" fill="#fff" stroke="#000" stroke-width="4.5"/>
<circle cx="249.00" cy="2198.28" r="7.9" fill="#fff" stroke="#000" stroke-width="4.5"/>
<circle cx="235.00" cy="2231.12" r="7.9" fill="#fff" stroke="#000" stroke-width="4.5"/>
<circle cx="120.90" cy="2263.96" r="7.9" fill="#fff" stroke="#000" stroke-width="4.5"/>
<circle cx="150.00" cy="2296.80" r="7.9" fill="#fff" stroke="#000" stroke-width="4.5"/>
<path d="M170.30 1301.70L180.20 1311.60L170.30 1321.50L160.40 1311.60Z" fill="#fff" stroke="#000" stroke-width="4.5" stroke-linejoin="round"/>
<path d="M646.30 1334.54L656.20 1344.44L646.30 1354.34L636.40 1344.44Z" fill="#fff" stroke="#000" stroke-width="4.5" stroke-linejoin="round"/>
<path d="M140.30 1367.38L150.20 1377.28L140.30 1387.18L130.40 1377.28Z" fill="#fff" stroke="#000" stroke-width="4.5" stroke-linejoin="round"/>
<path d="M223.30 1400.22L233.20 1410.12L223.30 1420.02L213.40 1410.12Z" fill="#fff" stroke="#000" stroke-width="4.5" stroke-linejoin="round"/>
<path d="M294.30 1433.06L304.20 1442.96L294.30 1452.86L284.40 1442.96Z" fill="#fff" stroke="#000" stroke-width="4.5" stroke-linejoin="round"/>
<path d="M771.80 1465.90L781.70 1475.80L771.80 1485.70L761.90 1475.80Z" fill="#fff" stroke="#000" stroke-width="4.5" stroke-linejoin="round"/>
<path d="M399.80 1498.74L409.70 1508.64L399.80 1518.54L389.90 1508.64Z" fill="#fff" stroke="#000" stroke-width="4.5" stroke-linejoin="round"/>
<path d="M153.80 1531.58L163.70 1541.48L153.80 1551.38L143.90 1541.48Z" fill="#fff" stroke="#000" stroke-width="4.5" stroke-linejoin="round"/>
<path d="M245.30 1564.42L255.20 1574.32L245.30 1584.22L235.40 1574.32Z" fill="#fff" stroke="#000" stroke-width="4.5" stroke-linejoin="round"/>
<path d="M195.30 1597.26L205.20 1607.16L195.30 1617.06L185.40 1607.16Z" fill="#fff" stroke="#000" stroke-width="4.5" stroke-linejoin="round"/>
<path d="M171.80 1630.10L181.70 1640.00L171.80 1649.90L161.90 1640.00Z" fill="#fff" stroke="#000" stroke-width="4.5" stroke-linejoin="round"/>
<path d="M564.80 1662.94L574.70 1672.84L564.80 1682.74L554.90 1672.84Z" fill="#fff" stroke="#000" stroke-width="4.5" stroke-linejoin="round"/>
<path d="M129.30 1695.78L139.20 1705.68L129.30 1715.58L119.40 1705.68Z" fill="#fff" stroke="#000" stroke-width="4.5" stroke-linejoin="round"/>
<path d="M141.80 1728.62L151.70 1738.52L141.80 1748.42L131.90 1738.52Z" fill="#fff" stroke="#000" stroke-width="4.5" stroke-linejoin="round"/>
<path d="M157.30 1761.46L167.20 1771.36L157.30 1781.26L147.40 1771.36Z" fill="#fff" stroke="#000" stroke-width="4.5" stroke-linejoin="round"/>
<path d="M393.80 1794.30L403.70 1804.20L393.80 1814.10L383.90 1804.20Z" fill="#fff" stroke="#000" stroke-width="4.5" stroke-linejoin="round"/>
<path d="M157.30 1827.14L167.20 1837.04L157.30 1846.94L147.40 1837.04Z" fill="#fff" stroke="#000" stroke-width="4.5" stroke-linejoin="round"/>
<path d="M217.80 1859.98L227.70 1869.88L217.80 1879.78L207.90 1869.88Z" fill="#fff" stroke="#000" stroke-width="4.5" stroke-linejoin="round"/>
<path d="M141.30 1892.82L151.20 1902.72L141.30 1912.62L131.40 1902.72Z" fill="#fff" stroke="#000" stroke-width="4.5" stroke-linejoin="round"/>
<path d="M131.30 1925.66L141.20 1935.56L131.30 1945.46L121.40 1935.56Z" fill="#fff" stroke="#000" stroke-width="4.5" stroke-linejoin="round"/>
<path d="M125.80 1958.50L135.70 1968.40L125.80 1978.30L115.90 1968.40Z" fill="#fff" stroke="#000" stroke-width="4.5" stroke-linejoin="round"/>
<path d="M154.80 1991.34L164.70 2001.24L154.80 2011.14L144.90 2001.24Z" fill="#fff" stroke="#000" stroke-width="4.5" stroke-linejoin="round"/>
<path d="M221.30 2024.18L231.20 2034.08L221.30 2043.98L211.40 2034.08Z" fill="#fff" stroke="#000" stroke-width="4.5" stroke-linejoin="round"/>
<path d="M207.30 2057.02L217.20 2066.92L207.30 2076.82L197.40 2066.92Z" fill="#fff" stroke="#000" stroke-width="4.5" stroke-linejoin="round"/>
<path d="M269.80 2089.86L279.70 2099.76L269.80 2109.66L259.90 2099.76Z" fill="#fff" stroke="#000" stroke-width="4.5" stroke-linejoin="round"/>
<path d="M120.90 2122.70L130.80 2132.60L120.90 2142.50L111.00 2132.60Z" fill="#fff" stroke="#000" stroke-width="4.5" stroke-linejoin="round"/>
<path d="M748.80 2155.54L758.70 2165.44L748.80 2175.34L738.90 2165.44Z" fill="#fff" stroke="#000" stroke-width="4.5" stroke-linejoin="round"/>
<path d="M299.30 2188.38L309.20 2198.28L299.30 2208.18L289.40 2198.28Z" fill="#fff" stroke="#000" stroke-width="4.5" stroke-linejoin="round"/>
<path d="M171.80 2221.22L181.70 2231.12L171.80 2241.02L161.90 2231.12Z" fill="#fff" stroke="#000" stroke-width="4.5" stroke-linejoin="round"/>
<path d="M120.90 2254.06L130.80 2263.96L120.90 2273.86L111.00 2263.96Z" fill="#fff" stroke="#000" stroke-width="4.5" stroke-linejoin="round"/>
<path d="M134.30 2286.90L144.20 2296.80L134.30 2306.70L124.40 2296.80Z" fill="#fff" stroke="#000" stroke-width="4.5" stroke-linejoin="round"/>
<text transform="translate(135.89 1685.04) scale(0.985 1.01)">loss &gt;100% not shown</text>
<text transform="translate(143.99 1947.76) scale(0.985 1.01)">loss &gt;50% not shown</text>
<path d="M120.90 2350.80H1016.10" stroke="#000" stroke-width="3.3" fill="none" stroke-linecap="round"/>
<path d="M120.90 2350.80V2371.80" stroke="#000" stroke-width="3.3" fill="none" stroke-linecap="round"/>
<path d="M270.10 2350.80V2371.80" stroke="#000" stroke-width="3.3" fill="none" stroke-linecap="round"/>
<path d="M419.30 2350.80V2371.80" stroke="#000" stroke-width="3.3" fill="none" stroke-linecap="round"/>
<path d="M568.50 2350.80V2371.80" stroke="#000" stroke-width="3.3" fill="none" stroke-linecap="round"/>
<path d="M717.70 2350.80V2371.80" stroke="#000" stroke-width="3.3" fill="none" stroke-linecap="round"/>
<path d="M866.90 2350.80V2371.80" stroke="#000" stroke-width="3.3" fill="none" stroke-linecap="round"/>
<path d="M1016.10 2350.80V2371.80" stroke="#000" stroke-width="3.3" fill="none" stroke-linecap="round"/>
<text transform="translate(120.90 2426.60) scale(1 1.025)" text-anchor="middle">0%</text>
<text transform="translate(270.10 2426.60) scale(1 1.025)" text-anchor="middle">5%</text>
<text transform="translate(419.30 2426.60) scale(1 1.025)" text-anchor="middle">10%</text>
<text transform="translate(568.50 2426.60) scale(1 1.025)" text-anchor="middle">15%</text>
<text transform="translate(717.70 2426.60) scale(1 1.025)" text-anchor="middle">20%</text>
<text transform="translate(866.90 2426.60) scale(1 1.025)" text-anchor="middle">25%</text>
<text transform="translate(1016.10 2426.60) scale(1 1.025)" text-anchor="middle">30%</text>
<text x="568.50" y="2468.50" text-anchor="middle" style="font-size:37.5px">Share of GDP</text>
<rect x="480.2" y="1701.90" width="31.2" height="31.2" fill="#440154"/>
<text transform="translate(527.45 1730.30) scale(0.985 1.01)">Oil &amp; gas</text>
<rect x="480.2" y="1743.93" width="31.2" height="31.2" fill="#443A83"/>
<text transform="translate(526.46 1772.33) scale(0.985 1.01)">Utilities</text>
<rect x="480.2" y="1785.96" width="31.2" height="31.2" fill="#31688E"/>
<text transform="translate(526.29 1814.36) scale(0.985 1.01)">Manufacturing (no chemicals)</text>
<rect x="480.2" y="1827.99" width="31.2" height="31.2" fill="#21908C"/>
<text transform="translate(526.29 1856.39) scale(0.985 1.01)">Finance &amp; Insurance</text>
<rect x="480.2" y="1870.02" width="31.2" height="31.2" fill="#35B779"/>
<text transform="translate(526.29 1898.42) scale(0.985 1.01)">Professional Services</text>
<rect x="480.2" y="1912.05" width="31.2" height="31.2" fill="#8FD744"/>
<text transform="translate(526.29 1940.45) scale(0.985 1.01)">Funds</text>
<rect x="480.2" y="1954.08" width="31.2" height="31.2" fill="#FDE725"/>
<text transform="translate(527.45 1982.48) scale(0.985 1.01)">Other</text>
<circle cx="495.80" cy="2011.71" r="7.9" fill="#fff" stroke="#000" stroke-width="4.5"/>
<text transform="translate(527.48 2024.51) scale(0.985 1.01)">Stage 1 total</text>
<path d="M495.80 2043.84L505.70 2053.74L495.80 2063.64L485.90 2053.74Z" fill="#fff" stroke="#000" stroke-width="4.5" stroke-linejoin="round"/>
<text transform="translate(527.48 2066.54) scale(0.985 1.01)">Stage 2 total</text>
<text x="1061.40" y="1270.50" font-weight="bold" style="font-size:43.5px">d</text>
<text transform="translate(1631.70 1283.00) scale(1 1.02)" text-anchor="middle" style="font-size:41.8px">Stage 4: Ultimate owner loss</text>
<rect x="1183.60" y="1297.90" width="1" height="27.40" fill="#000" fill-opacity="0.13"/>
<rect x="1184.10" y="1297.90" width="1.40" height="27.40" fill="#000004"/>
<rect x="1185.50" y="1297.90" width="26.50" height="27.40" fill="#932667"/>
<rect x="1212.00" y="1297.90" width="4.30" height="27.40" fill="#DD513A"/>
<rect x="1216.30" y="1297.90" width="20.00" height="27.40" fill="#FCA50A"/>
<text transform="translate(1141.20 1323.80) scale(0.985 1.01)" text-anchor="end">USA</text>
<rect x="1183.60" y="1330.74" width="1" height="27.40" fill="#000" fill-opacity="0.13"/>
<rect x="1184.10" y="1330.74" width="180.90" height="27.40" fill="#000004"/>
<rect x="1365.00" y="1330.74" width="14.50" height="27.40" fill="#420A68"/>
<rect x="1379.50" y="1330.74" width="15.00" height="27.40" fill="#DD513A"/>
<rect x="1394.50" y="1330.74" width="184.30" height="27.40" fill="#FCA50A"/>
<text transform="translate(1141.20 1356.64) scale(0.985 1.01)" text-anchor="end">Russia</text>
<rect x="1183.60" y="1363.58" width="1" height="27.40" fill="#000" fill-opacity="0.13"/>
<rect x="1184.10" y="1363.58" width="15.90" height="27.40" fill="#000004"/>
<rect x="1200.00" y="1363.58" width="2.00" height="27.40" fill="#DD513A"/>
<text transform="translate(1141.20 1389.48) scale(0.985 1.01)" text-anchor="end">China</text>
<rect x="1183.60" y="1396.42" width="1" height="27.40" fill="#000" fill-opacity="0.13"/>
<rect x="1184.10" y="1396.42" width="15.90" height="27.40" fill="#932667"/>
<rect x="1200.00" y="1396.42" width="22.00" height="27.40" fill="#DD513A"/>
<rect x="1222.00" y="1396.42" width="48.50" height="27.40" fill="#FCA50A"/>
<text transform="translate(1141.20 1422.32) scale(0.985 1.01)" text-anchor="end">United Kingdom</text>
<rect x="1183.60" y="1429.26" width="1" height="27.40" fill="#000" fill-opacity="0.13"/>
<rect x="1184.10" y="1429.26" width="7.90" height="27.40" fill="#000004"/>
<rect x="1192.00" y="1429.26" width="4.30" height="27.40" fill="#420A68"/>
<rect x="1196.30" y="1429.26" width="35.70" height="27.40" fill="#932667"/>
<rect x="1232.00" y="1429.26" width="3.50" height="27.40" fill="#DD513A"/>
<rect x="1235.50" y="1429.26" width="89.00" height="27.40" fill="#FCA50A"/>
<text transform="translate(1141.20 1455.16) scale(0.985 1.01)" text-anchor="end">Canada</text>
<rect x="1183.60" y="1462.10" width="1" height="27.40" fill="#000" fill-opacity="0.13"/>
<rect x="1184.10" y="1462.10" width="856.60" height="27.40" fill="#000004"/>
<rect x="2040.70" y="1462.10" width="26.30" height="27.40" fill="#DD513A"/>
<text transform="translate(1141.20 1488.00) scale(0.985 1.01)" text-anchor="end">Qatar</text>
<rect x="1183.60" y="1494.94" width="1" height="27.40" fill="#000" fill-opacity="0.13"/>
<rect x="1184.10" y="1494.94" width="151.40" height="27.40" fill="#000004"/>
<rect x="1335.50" y="1494.94" width="6.50" height="27.40" fill="#420A68"/>
<rect x="1342.00" y="1494.94" width="16.00" height="27.40" fill="#DD513A"/>
<rect x="1358.00" y="1494.94" width="92.50" height="27.40" fill="#FCA50A"/>
<text transform="translate(1141.20 1520.84) scale(0.985 1.01)" text-anchor="end">Norway</text>
<rect x="1183.60" y="1527.78" width="1" height="27.40" fill="#000" fill-opacity="0.13"/>
<rect x="1184.10" y="1527.78" width="9.70" height="27.40" fill="#932667"/>
<rect x="1193.80" y="1527.78" width="25.00" height="27.40" fill="#FCA50A"/>
<text transform="translate(1141.20 1553.68) scale(0.985 1.01)" text-anchor="end">France</text>
<rect x="1183.60" y="1560.62" width="1" height="27.40" fill="#000" fill-opacity="0.13"/>
<rect x="1184.10" y="1560.62" width="125.90" height="27.40" fill="#000004"/>
<rect x="1310.00" y="1560.62" width="1.00" height="27.40" fill="#DD513A"/>
<text transform="translate(1141.20 1586.52) scale(0.985 1.01)" text-anchor="end">Saudi Arabia</text>
<rect x="1183.60" y="1593.46" width="1" height="27.40" fill="#000" fill-opacity="0.13"/>
<rect x="1184.10" y="1593.46" width="76.40" height="27.40" fill="#000004"/>
<text transform="translate(1141.20 1619.36) scale(0.985 1.01)" text-anchor="end">Mexico</text>
<rect x="1183.60" y="1626.30" width="1" height="27.40" fill="#000" fill-opacity="0.13"/>
<rect x="1184.10" y="1626.30" width="32.20" height="27.40" fill="#000004"/>
<rect x="1216.30" y="1626.30" width="13.70" height="27.40" fill="#FCA50A"/>
<text transform="translate(1141.20 1652.20) scale(0.985 1.01)" text-anchor="end">Brazil</text>
<rect x="1183.60" y="1659.14" width="1" height="27.40" fill="#000" fill-opacity="0.13"/>
<text transform="translate(1141.20 1685.04) scale(0.985 1.01)" text-anchor="end">Brit. Virgin Islands</text>
<rect x="1183.60" y="1691.98" width="1" height="27.40" fill="#000" fill-opacity="0.13"/>
<rect x="1184.10" y="1691.98" width="5.90" height="27.40" fill="#932667"/>
<rect x="1190.00" y="1691.98" width="6.00" height="27.40" fill="#FCA50A"/>
<text transform="translate(1141.20 1717.88) scale(0.985 1.01)" text-anchor="end">Japan</text>
<rect x="1183.60" y="1724.82" width="1" height="27.40" fill="#000" fill-opacity="0.13"/>
<rect x="1184.10" y="1724.82" width="18.40" height="27.40" fill="#000004"/>
<text transform="translate(1141.20 1750.72) scale(0.985 1.01)" text-anchor="end">India</text>
<rect x="1183.60" y="1757.66" width="1" height="27.40" fill="#000" fill-opacity="0.13"/>
<rect x="1184.10" y="1757.66" width="7.90" height="27.40" fill="#932667"/>
<rect x="1192.00" y="1757.66" width="16.80" height="27.40" fill="#DD513A"/>
<rect x="1208.80" y="1757.66" width="17.50" height="27.40" fill="#FCA50A"/>
<text transform="translate(1141.20 1783.56) scale(0.985 1.01)" text-anchor="end">Australia</text>
<rect x="1183.60" y="1790.50" width="1" height="27.40" fill="#000" fill-opacity="0.13"/>
<rect x="1184.10" y="1790.50" width="103.40" height="27.40" fill="#DD513A"/>
<rect x="1287.50" y="1790.50" width="58.30" height="27.40" fill="#FCA50A"/>
<text transform="translate(1141.20 1816.40) scale(0.985 1.01)" text-anchor="end">Hong Kong</text>
<rect x="1183.60" y="1823.34" width="1" height="27.40" fill="#000" fill-opacity="0.13"/>
<rect x="1184.10" y="1823.34" width="30.90" height="27.40" fill="#000004"/>
<rect x="1215.00" y="1823.34" width="2.50" height="27.40" fill="#932667"/>
<rect x="1217.50" y="1823.34" width="11.30" height="27.40" fill="#DD513A"/>
<rect x="1228.80" y="1823.34" width="5.70" height="27.40" fill="#FCA50A"/>
<text transform="translate(1141.20 1849.24) scale(0.985 1.01)" text-anchor="end">Netherlands</text>
<rect x="1183.60" y="1856.18" width="1" height="27.40" fill="#000" fill-opacity="0.13"/>
<rect x="1184.10" y="1856.18" width="98.40" height="27.40" fill="#000004"/>
<text transform="translate(1141.20 1882.08) scale(0.985 1.01)" text-anchor="end">Iran</text>
<rect x="1183.60" y="1889.02" width="1" height="27.40" fill="#000" fill-opacity="0.13"/>
<rect x="1184.10" y="1889.02" width="8.40" height="27.40" fill="#000004"/>
<rect x="1192.50" y="1889.02" width="11.30" height="27.40" fill="#FCA50A"/>
<text transform="translate(1141.20 1914.92) scale(0.985 1.01)" text-anchor="end">Italy</text>
<rect x="1183.60" y="1921.86" width="1" height="27.40" fill="#000" fill-opacity="0.13"/>
<text transform="translate(1141.20 1947.76) scale(0.985 1.01)" text-anchor="end">Cyprus</text>
<rect x="1183.60" y="1954.70" width="1" height="27.40" fill="#000" fill-opacity="0.13"/>
<rect x="1184.10" y="1954.70" width="4.70" height="27.40" fill="#932667"/>
<rect x="1188.80" y="1954.70" width="3.70" height="27.40" fill="#FCA50A"/>
<text transform="translate(1141.20 1980.60) scale(0.985 1.01)" text-anchor="end">Germany</text>
<rect x="1183.60" y="1987.54" width="1" height="27.40" fill="#000" fill-opacity="0.13"/>
<rect x="1184.10" y="1987.54" width="32.20" height="27.40" fill="#000004"/>
<text transform="translate(1141.20 2013.44) scale(0.985 1.01)" text-anchor="end">Indonesia</text>
<rect x="1183.60" y="2020.38" width="1" height="27.40" fill="#000" fill-opacity="0.13"/>
<rect x="1184.10" y="2020.38" width="2.20" height="27.40" fill="#000004"/>
<rect x="1186.30" y="2020.38" width="96.20" height="27.40" fill="#FCA50A"/>
<text transform="translate(1141.20 2046.28) scale(0.985 1.01)" text-anchor="end">Malaysia</text>
<rect x="1183.60" y="2053.22" width="1" height="27.40" fill="#000" fill-opacity="0.13"/>
<rect x="1184.10" y="2053.22" width="69.70" height="27.40" fill="#000004"/>
<rect x="1253.80" y="2053.22" width="2.50" height="27.40" fill="#DD513A"/>
<rect x="1256.30" y="2053.22" width="12.50" height="27.40" fill="#FCA50A"/>
<text transform="translate(1141.20 2079.12) scale(0.985 1.01)" text-anchor="end">Nigeria</text>
<rect x="1183.60" y="2086.06" width="1" height="27.40" fill="#000" fill-opacity="0.13"/>
<rect x="1184.10" y="2086.06" width="118.40" height="27.40" fill="#000004"/>
<rect x="1302.50" y="2086.06" width="2.50" height="27.40" fill="#420A68"/>
<rect x="1305.00" y="2086.06" width="5.00" height="27.40" fill="#DD513A"/>
<rect x="1310.00" y="2086.06" width="21.30" height="27.40" fill="#FCA50A"/>
<text transform="translate(1141.20 2111.96) scale(0.985 1.01)" text-anchor="end">Kazakhstan</text>
<rect x="1183.60" y="2118.90" width="1" height="27.40" fill="#000" fill-opacity="0.13"/>
<rect x="1184.10" y="2118.90" width="30.90" height="27.40" fill="#932667"/>
<rect x="1215.00" y="2118.90" width="5.00" height="27.40" fill="#DD513A"/>
<text transform="translate(1141.20 2144.80) scale(0.985 1.01)" text-anchor="end">Switzerland</text>
<rect x="1183.60" y="2151.74" width="1" height="27.40" fill="#000" fill-opacity="0.13"/>
<rect x="1184.10" y="2151.74" width="627.70" height="27.40" fill="#000004"/>
<text transform="translate(1141.20 2177.64) scale(0.985 1.01)" text-anchor="end">Turkmenistan</text>
<rect x="1183.60" y="2184.58" width="1" height="27.40" fill="#000" fill-opacity="0.13"/>
<rect x="1184.10" y="2184.58" width="168.40" height="27.40" fill="#000004"/>
<rect x="1352.50" y="2184.58" width="7.50" height="27.40" fill="#FCA50A"/>
<text transform="translate(1141.20 2210.48) scale(0.985 1.01)" text-anchor="end">Ukraine</text>
<rect x="1183.60" y="2217.42" width="1" height="27.40" fill="#000" fill-opacity="0.13"/>
<rect x="1184.10" y="2217.42" width="29.70" height="27.40" fill="#000004"/>
<rect x="1213.80" y="2217.42" width="3.70" height="27.40" fill="#420A68"/>
<rect x="1217.50" y="2217.42" width="2.50" height="27.40" fill="#DD513A"/>
<rect x="1220.00" y="2217.42" width="7.50" height="27.40" fill="#FCA50A"/>
<text transform="translate(1141.20 2243.32) scale(0.985 1.01)" text-anchor="end">Argentina</text>
<rect x="1183.60" y="2250.26" width="1" height="27.40" fill="#000" fill-opacity="0.13"/>
<rect x="1184.10" y="2250.26" width="37.20" height="27.40" fill="#DD513A"/>
<text transform="translate(1141.20 2276.16) scale(0.985 1.01)" text-anchor="end">Belgium</text>
<rect x="1183.60" y="2283.10" width="1" height="27.40" fill="#000" fill-opacity="0.13"/>
<rect x="1184.10" y="2283.10" width="7.20" height="27.40" fill="#000004"/>
<rect x="1191.30" y="2283.10" width="5.00" height="27.40" fill="#932667"/>
<rect x="1196.30" y="2283.10" width="2.50" height="27.40" fill="#FCA50A"/>
<text transform="translate(1141.20 2309.00) scale(0.985 1.01)" text-anchor="end">Rest of the world</text>
<circle cx="1226.70" cy="1311.60" r="7.9" fill="#fff" stroke="#000" stroke-width="4.5"/>
<circle cx="1738.70" cy="1344.44" r="7.9" fill="#fff" stroke="#000" stroke-width="4.5"/>
<circle cx="1206.70" cy="1377.28" r="7.9" fill="#fff" stroke="#000" stroke-width="4.5"/>
<circle cx="1202.70" cy="1410.12" r="7.9" fill="#fff" stroke="#000" stroke-width="4.5"/>
<circle cx="1384.70" cy="1442.96" r="7.9" fill="#fff" stroke="#000" stroke-width="4.5"/>
<circle cx="1854.20" cy="1475.80" r="7.9" fill="#fff" stroke="#000" stroke-width="4.5"/>
<circle cx="1435.70" cy="1508.64" r="7.9" fill="#fff" stroke="#000" stroke-width="4.5"/>
<circle cx="1184.10" cy="1541.48" r="7.9" fill="#fff" stroke="#000" stroke-width="4.5"/>
<circle cx="1309.70" cy="1574.32" r="7.9" fill="#fff" stroke="#000" stroke-width="4.5"/>
<circle cx="1268.70" cy="1607.16" r="7.9" fill="#fff" stroke="#000" stroke-width="4.5"/>
<circle cx="1260.70" cy="1640.00" r="7.9" fill="#fff" stroke="#000" stroke-width="4.5"/>
<circle cx="1184.10" cy="1672.84" r="7.9" fill="#fff" stroke="#000" stroke-width="4.5"/>
<circle cx="1184.10" cy="1705.68" r="7.9" fill="#fff" stroke="#000" stroke-width="4.5"/>
<circle cx="1201.70" cy="1738.52" r="7.9" fill="#fff" stroke="#000" stroke-width="4.5"/>
<circle cx="1241.20" cy="1771.36" r="7.9" fill="#fff" stroke="#000" stroke-width="4.5"/>
<circle cx="1184.10" cy="1804.20" r="7.9" fill="#fff" stroke="#000" stroke-width="4.5"/>
<circle cx="1202.70" cy="1837.04" r="7.9" fill="#fff" stroke="#000" stroke-width="4.5"/>
<circle cx="1279.20" cy="1869.88" r="7.9" fill="#fff" stroke="#000" stroke-width="4.5"/>
<circle cx="1186.70" cy="1902.72" r="7.9" fill="#fff" stroke="#000" stroke-width="4.5"/>
<circle cx="1184.10" cy="1935.56" r="7.9" fill="#fff" stroke="#000" stroke-width="4.5"/>
<circle cx="1186.20" cy="1968.40" r="7.9" fill="#fff" stroke="#000" stroke-width="4.5"/>
<circle cx="1245.20" cy="2001.24" r="7.9" fill="#fff" stroke="#000" stroke-width="4.5"/>
<circle cx="1273.70" cy="2034.08" r="7.9" fill="#fff" stroke="#000" stroke-width="4.5"/>
<circle cx="1361.70" cy="2066.92" r="7.9" fill="#fff" stroke="#000" stroke-width="4.5"/>
<circle cx="1830.20" cy="2099.76" r="7.9" fill="#fff" stroke="#000" stroke-width="4.5"/>
<circle cx="1184.10" cy="2132.60" r="7.9" fill="#fff" stroke="#000" stroke-width="4.5"/>
<circle cx="1873.20" cy="2165.44" r="7.9" fill="#fff" stroke="#000" stroke-width="4.5"/>
<circle cx="1312.20" cy="2198.28" r="7.9" fill="#fff" stroke="#000" stroke-width="4.5"/>
<circle cx="1298.20" cy="2231.12" r="7.9" fill="#fff" stroke="#000" stroke-width="4.5"/>
<circle cx="1184.10" cy="2263.96" r="7.9" fill="#fff" stroke="#000" stroke-width="4.5"/>
<circle cx="1213.20" cy="2296.80" r="7.9" fill="#fff" stroke="#000" stroke-width="4.5"/>
<path d="M1233.50 1301.70L1243.40 1311.60L1233.50 1321.50L1223.60 1311.60Z" fill="#fff" stroke="#000" stroke-width="4.5" stroke-linejoin="round"/>
<path d="M1709.50 1334.54L1719.40 1344.44L1709.50 1354.34L1699.60 1344.44Z" fill="#fff" stroke="#000" stroke-width="4.5" stroke-linejoin="round"/>
<path d="M1203.50 1367.38L1213.40 1377.28L1203.50 1387.18L1193.60 1377.28Z" fill="#fff" stroke="#000" stroke-width="4.5" stroke-linejoin="round"/>
<path d="M1286.50 1400.22L1296.40 1410.12L1286.50 1420.02L1276.60 1410.12Z" fill="#fff" stroke="#000" stroke-width="4.5" stroke-linejoin="round"/>
<path d="M1357.50 1433.06L1367.40 1442.96L1357.50 1452.86L1347.60 1442.96Z" fill="#fff" stroke="#000" stroke-width="4.5" stroke-linejoin="round"/>
<path d="M1835.00 1465.90L1844.90 1475.80L1835.00 1485.70L1825.10 1475.80Z" fill="#fff" stroke="#000" stroke-width="4.5" stroke-linejoin="round"/>
<path d="M1463.00 1498.74L1472.90 1508.64L1463.00 1518.54L1453.10 1508.64Z" fill="#fff" stroke="#000" stroke-width="4.5" stroke-linejoin="round"/>
<path d="M1217.00 1531.58L1226.90 1541.48L1217.00 1551.38L1207.10 1541.48Z" fill="#fff" stroke="#000" stroke-width="4.5" stroke-linejoin="round"/>
<path d="M1308.50 1564.42L1318.40 1574.32L1308.50 1584.22L1298.60 1574.32Z" fill="#fff" stroke="#000" stroke-width="4.5" stroke-linejoin="round"/>
<path d="M1258.50 1597.26L1268.40 1607.16L1258.50 1617.06L1248.60 1607.16Z" fill="#fff" stroke="#000" stroke-width="4.5" stroke-linejoin="round"/>
<path d="M1235.00 1630.10L1244.90 1640.00L1235.00 1649.90L1225.10 1640.00Z" fill="#fff" stroke="#000" stroke-width="4.5" stroke-linejoin="round"/>
<path d="M1628.00 1662.94L1637.90 1672.84L1628.00 1682.74L1618.10 1672.84Z" fill="#fff" stroke="#000" stroke-width="4.5" stroke-linejoin="round"/>
<path d="M1192.50 1695.78L1202.40 1705.68L1192.50 1715.58L1182.60 1705.68Z" fill="#fff" stroke="#000" stroke-width="4.5" stroke-linejoin="round"/>
<path d="M1205.00 1728.62L1214.90 1738.52L1205.00 1748.42L1195.10 1738.52Z" fill="#fff" stroke="#000" stroke-width="4.5" stroke-linejoin="round"/>
<path d="M1220.50 1761.46L1230.40 1771.36L1220.50 1781.26L1210.60 1771.36Z" fill="#fff" stroke="#000" stroke-width="4.5" stroke-linejoin="round"/>
<path d="M1457.00 1794.30L1466.90 1804.20L1457.00 1814.10L1447.10 1804.20Z" fill="#fff" stroke="#000" stroke-width="4.5" stroke-linejoin="round"/>
<path d="M1220.50 1827.14L1230.40 1837.04L1220.50 1846.94L1210.60 1837.04Z" fill="#fff" stroke="#000" stroke-width="4.5" stroke-linejoin="round"/>
<path d="M1281.00 1859.98L1290.90 1869.88L1281.00 1879.78L1271.10 1869.88Z" fill="#fff" stroke="#000" stroke-width="4.5" stroke-linejoin="round"/>
<path d="M1204.50 1892.82L1214.40 1902.72L1204.50 1912.62L1194.60 1902.72Z" fill="#fff" stroke="#000" stroke-width="4.5" stroke-linejoin="round"/>
<path d="M1194.50 1925.66L1204.40 1935.56L1194.50 1945.46L1184.60 1935.56Z" fill="#fff" stroke="#000" stroke-width="4.5" stroke-linejoin="round"/>
<path d="M1189.00 1958.50L1198.90 1968.40L1189.00 1978.30L1179.10 1968.40Z" fill="#fff" stroke="#000" stroke-width="4.5" stroke-linejoin="round"/>
<path d="M1218.00 1991.34L1227.90 2001.24L1218.00 2011.14L1208.10 2001.24Z" fill="#fff" stroke="#000" stroke-width="4.5" stroke-linejoin="round"/>
<path d="M1284.50 2024.18L1294.40 2034.08L1284.50 2043.98L1274.60 2034.08Z" fill="#fff" stroke="#000" stroke-width="4.5" stroke-linejoin="round"/>
<path d="M1270.50 2057.02L1280.40 2066.92L1270.50 2076.82L1260.60 2066.92Z" fill="#fff" stroke="#000" stroke-width="4.5" stroke-linejoin="round"/>
<path d="M1333.00 2089.86L1342.90 2099.76L1333.00 2109.66L1323.10 2099.76Z" fill="#fff" stroke="#000" stroke-width="4.5" stroke-linejoin="round"/>
<path d="M1184.10 2122.70L1194.00 2132.60L1184.10 2142.50L1174.20 2132.60Z" fill="#fff" stroke="#000" stroke-width="4.5" stroke-linejoin="round"/>
<path d="M1812.00 2155.54L1821.90 2165.44L1812.00 2175.34L1802.10 2165.44Z" fill="#fff" stroke="#000" stroke-width="4.5" stroke-linejoin="round"/>
<path d="M1362.50 2188.38L1372.40 2198.28L1362.50 2208.18L1352.60 2198.28Z" fill="#fff" stroke="#000" stroke-width="4.5" stroke-linejoin="round"/>
<path d="M1235.00 2221.22L1244.90 2231.12L1235.00 2241.02L1225.10 2231.12Z" fill="#fff" stroke="#000" stroke-width="4.5" stroke-linejoin="round"/>
<path d="M1184.10 2254.06L1194.00 2263.96L1184.10 2273.86L1174.20 2263.96Z" fill="#fff" stroke="#000" stroke-width="4.5" stroke-linejoin="round"/>
<path d="M1197.50 2286.90L1207.40 2296.80L1197.50 2306.70L1187.60 2296.80Z" fill="#fff" stroke="#000" stroke-width="4.5" stroke-linejoin="round"/>
<path d="M1241.50 1299.31L1252.14 1317.74L1230.86 1317.74Z" fill="#fff" stroke="#000" stroke-width="4.5" stroke-linejoin="round"/>
<path d="M1603.20 1332.15L1613.84 1350.58L1592.56 1350.58Z" fill="#fff" stroke="#000" stroke-width="4.5" stroke-linejoin="round"/>
<path d="M1199.00 1364.99L1209.64 1383.42L1188.36 1383.42Z" fill="#fff" stroke="#000" stroke-width="4.5" stroke-linejoin="round"/>
<path d="M1278.70 1397.83L1289.34 1416.26L1268.06 1416.26Z" fill="#fff" stroke="#000" stroke-width="4.5" stroke-linejoin="round"/>
<path d="M1320.70 1430.67L1331.34 1449.10L1310.06 1449.10Z" fill="#fff" stroke="#000" stroke-width="4.5" stroke-linejoin="round"/>
<path d="M1862.20 1463.51L1872.84 1481.94L1851.56 1481.94Z" fill="#fff" stroke="#000" stroke-width="4.5" stroke-linejoin="round"/>
<path d="M1385.70 1496.35L1396.34 1514.78L1375.06 1514.78Z" fill="#fff" stroke="#000" stroke-width="4.5" stroke-linejoin="round"/>
<path d="M1215.70 1529.19L1226.34 1547.62L1205.06 1547.62Z" fill="#fff" stroke="#000" stroke-width="4.5" stroke-linejoin="round"/>
<path d="M1309.50 1562.03L1320.14 1580.46L1298.86 1580.46Z" fill="#fff" stroke="#000" stroke-width="4.5" stroke-linejoin="round"/>
<path d="M1258.20 1594.87L1268.84 1613.30L1247.56 1613.30Z" fill="#fff" stroke="#000" stroke-width="4.5" stroke-linejoin="round"/>
<path d="M1227.70 1627.71L1238.34 1646.14L1217.06 1646.14Z" fill="#fff" stroke="#000" stroke-width="4.5" stroke-linejoin="round"/>
<path d="M1194.20 1693.39L1204.84 1711.82L1183.56 1711.82Z" fill="#fff" stroke="#000" stroke-width="4.5" stroke-linejoin="round"/>
<path d="M1203.20 1726.23L1213.84 1744.66L1192.56 1744.66Z" fill="#fff" stroke="#000" stroke-width="4.5" stroke-linejoin="round"/>
<path d="M1220.70 1759.07L1231.34 1777.50L1210.06 1777.50Z" fill="#fff" stroke="#000" stroke-width="4.5" stroke-linejoin="round"/>
<path d="M1344.50 1791.91L1355.14 1810.34L1333.86 1810.34Z" fill="#fff" stroke="#000" stroke-width="4.5" stroke-linejoin="round"/>
<path d="M1232.00 1824.75L1242.64 1843.18L1221.36 1843.18Z" fill="#fff" stroke="#000" stroke-width="4.5" stroke-linejoin="round"/>
<path d="M1279.50 1857.59L1290.14 1876.02L1268.86 1876.02Z" fill="#fff" stroke="#000" stroke-width="4.5" stroke-linejoin="round"/>
<path d="M1200.70 1890.43L1211.34 1908.86L1190.06 1908.86Z" fill="#fff" stroke="#000" stroke-width="4.5" stroke-linejoin="round"/>
<path d="M1192.40 1956.11L1203.04 1974.54L1181.76 1974.54Z" fill="#fff" stroke="#000" stroke-width="4.5" stroke-linejoin="round"/>
<path d="M1216.20 1988.95L1226.84 2007.38L1205.56 2007.38Z" fill="#fff" stroke="#000" stroke-width="4.5" stroke-linejoin="round"/>
<path d="M1283.20 2021.79L1293.84 2040.22L1272.56 2040.22Z" fill="#fff" stroke="#000" stroke-width="4.5" stroke-linejoin="round"/>
<path d="M1269.50 2054.63L1280.14 2073.06L1258.86 2073.06Z" fill="#fff" stroke="#000" stroke-width="4.5" stroke-linejoin="round"/>
<path d="M1330.70 2087.47L1341.34 2105.90L1320.06 2105.90Z" fill="#fff" stroke="#000" stroke-width="4.5" stroke-linejoin="round"/>
<path d="M1219.00 2120.31L1229.64 2138.74L1208.36 2138.74Z" fill="#fff" stroke="#000" stroke-width="4.5" stroke-linejoin="round"/>
<path d="M1811.80 2153.15L1822.44 2171.58L1801.16 2171.58Z" fill="#fff" stroke="#000" stroke-width="4.5" stroke-linejoin="round"/>
<path d="M1360.70 2185.99L1371.34 2204.42L1350.06 2204.42Z" fill="#fff" stroke="#000" stroke-width="4.5" stroke-linejoin="round"/>
<path d="M1226.20 2218.83L1236.84 2237.26L1215.56 2237.26Z" fill="#fff" stroke="#000" stroke-width="4.5" stroke-linejoin="round"/>
<path d="M1223.20 2251.67L1233.84 2270.10L1212.56 2270.10Z" fill="#fff" stroke="#000" stroke-width="4.5" stroke-linejoin="round"/>
<path d="M1198.20 2284.51L1208.84 2302.94L1187.56 2302.94Z" fill="#fff" stroke="#000" stroke-width="4.5" stroke-linejoin="round"/>
<text transform="translate(1199.09 1685.04) scale(0.985 1.01)">loss &gt;100% not shown</text>
<text transform="translate(1206.99 1947.76) scale(0.985 1.01)">loss &gt;50% not shown</text>
<path d="M1184.10 2350.80H2079.30" stroke="#000" stroke-width="3.3" fill="none" stroke-linecap="round"/>
<path d="M1184.10 2350.80V2371.80" stroke="#000" stroke-width="3.3" fill="none" stroke-linecap="round"/>
<path d="M1333.30 2350.80V2371.80" stroke="#000" stroke-width="3.3" fill="none" stroke-linecap="round"/>
<path d="M1482.50 2350.80V2371.80" stroke="#000" stroke-width="3.3" fill="none" stroke-linecap="round"/>
<path d="M1631.70 2350.80V2371.80" stroke="#000" stroke-width="3.3" fill="none" stroke-linecap="round"/>
<path d="M1780.90 2350.80V2371.80" stroke="#000" stroke-width="3.3" fill="none" stroke-linecap="round"/>
<path d="M1930.10 2350.80V2371.80" stroke="#000" stroke-width="3.3" fill="none" stroke-linecap="round"/>
<path d="M2079.30 2350.80V2371.80" stroke="#000" stroke-width="3.3" fill="none" stroke-linecap="round"/>
<text transform="translate(1184.10 2426.60) scale(1 1.025)" text-anchor="middle">0%</text>
<text transform="translate(1333.30 2426.60) scale(1 1.025)" text-anchor="middle">5%</text>
<text transform="translate(1482.50 2426.60) scale(1 1.025)" text-anchor="middle">10%</text>
<text transform="translate(1631.70 2426.60) scale(1 1.025)" text-anchor="middle">15%</text>
<text transform="translate(1780.90 2426.60) scale(1 1.025)" text-anchor="middle">20%</text>
<text transform="translate(1930.10 2426.60) scale(1 1.025)" text-anchor="middle">25%</text>
<text transform="translate(2079.30 2426.60) scale(1 1.025)" text-anchor="middle">30%</text>
<text x="1631.70" y="2468.50" text-anchor="middle" style="font-size:37.5px">Share of GDP</text>
<rect x="1820.9" y="1641.40" width="31.2" height="31.2" fill="#000004"/>
<text transform="translate(1871.05 1669.80) scale(0.985 1.01)">Government</text>
<rect x="1820.9" y="1683.50" width="31.2" height="31.2" fill="#420A68"/>
<text transform="translate(1869.66 1711.90) scale(0.985 1.01)">Individuals</text>
<rect x="1820.9" y="1725.60" width="31.2" height="31.2" fill="#932667"/>
<text transform="translate(1869.99 1754.00) scale(0.985 1.01)">Fund owners</text>
<rect x="1820.9" y="1767.70" width="31.2" height="31.2" fill="#DD513A"/>
<text transform="translate(1871.02 1796.10) scale(0.985 1.01)">Creditors</text>
<rect x="1820.9" y="1809.80" width="31.2" height="31.2" fill="#FCA50A"/>
<text transform="translate(1870.16 1838.20) scale(0.985 1.01)">Unknown</text>
<circle cx="1836.50" cy="1867.50" r="7.9" fill="#fff" stroke="#000" stroke-width="4.5"/>
<text transform="translate(1871.18 1880.30) scale(0.985 1.01)">Stage 1 total</text>
<path d="M1836.50 1899.70L1846.40 1909.60L1836.50 1919.50L1826.60 1909.60Z" fill="#fff" stroke="#000" stroke-width="4.5" stroke-linejoin="round"/>
<text transform="translate(1871.18 1922.40) scale(0.985 1.01)">Stage 2 total</text>
<path d="M1836.50 1939.41L1847.14 1957.84L1825.86 1957.84Z" fill="#fff" stroke="#000" stroke-width="4.5" stroke-linejoin="round"/>
<text transform="translate(1871.18 1964.50) scale(0.985 1.01)">Stage 3 total</text>
</svg>
</body></html>
